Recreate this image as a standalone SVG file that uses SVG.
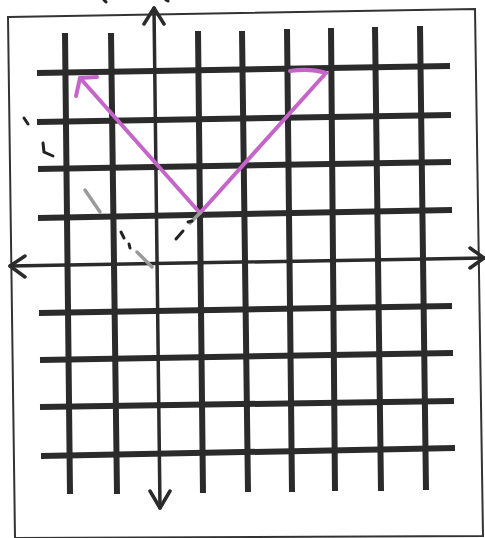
<svg xmlns="http://www.w3.org/2000/svg" width="485" height="538" viewBox="0 0 485 538">
<style>
.g{stroke:#2b2b2b;stroke-width:6;fill:none;stroke-linecap:butt}
.ax{stroke:#2b2b2b;stroke-width:3.5;fill:none;stroke-linecap:round;stroke-linejoin:round}
.b{stroke:#333;stroke-width:2;fill:none}
.p{stroke:#c665c9;stroke-width:4;fill:none;stroke-linecap:round;stroke-linejoin:round}
.m{stroke:#222;stroke-width:3;fill:none;stroke-linecap:round}
.gr{stroke:#9a9a9a;stroke-width:3.5;fill:none;stroke-linecap:round}
</style>
<rect width="485" height="538" fill="#ffffff"/>
<g id="border"><path class="b" d="M8,17 L475,9 L483,536 L15,538 Z"/></g>
<g id="grid">
<path class="g" d="M65,33 L70,494 M111,33 L117,494 M198,31 L203,493 M242,31 L248,492 M287,29 L292,492 M331,28 L335,491 M375,27 L381,491 M420,26 L426,490"/>
<path class="g" d="M37,73 L450,66 M37,122 L451,115 M38,169 L451,162 M38,218 L452,210 M39,313 L452,306 M40,360 L453,353 M40,407 L454,401 M41,456 L455,448"/>
</g>
<g id="axes">
<path class="ax" d="M154,8 L160,508 M10,266 L484,258"/>
<path class="ax" d="M144,24 L154,8 L164,24 M150,491 L160,508 L170,491 M25,256 L10,266 L25,277 M470,248 L484,258 L470,268"/>
</g>
<g id="connectors">
<path class="p" d="M80,78 L200,213 L326,73"/>
<path class="p" d="M76,96 L80,78 L97,77"/>
<path class="p" d="M290,71 Q310,68 326,73"/>
<path class="gr" d="M200,213 L190,223"/>
<path class="m" d="M183,231 L176,239 M188,222 L192,221"/>
<path class="gr" d="M85,190 L100,212"/>
<path class="gr" d="M137,252 L152,267"/>
<path class="m" d="M121,232 L124,238 M129,244 L130,248"/>
<path class="m" d="M24,118 L28,124 M43,143 L44,152 L53,156"/>
<path class="m" d="M104,0 L106,2 M166,0 L168,1"/>
</g>
</svg>
